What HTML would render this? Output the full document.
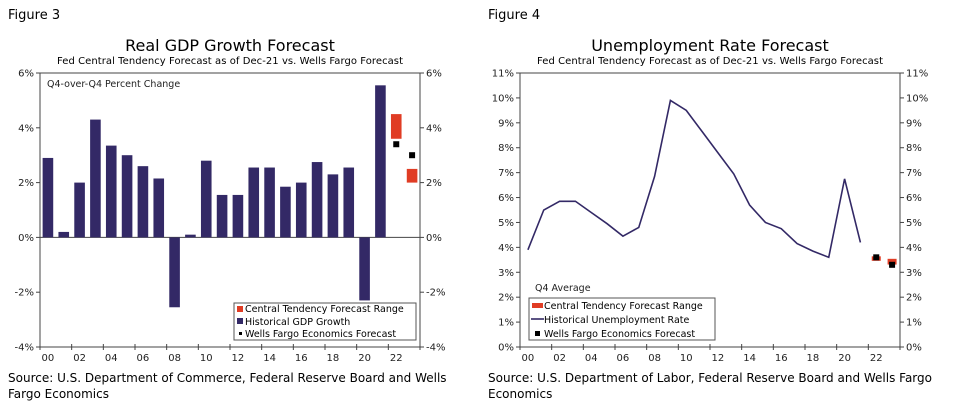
<!DOCTYPE html>
<html><head><meta charset="utf-8"><style>
body{margin:0;background:#fff;width:957px;height:409px;overflow:hidden;font-family:"Liberation Sans",sans-serif}
svg text{font-family:"DejaVu Sans","Liberation Sans",sans-serif}
</style></head><body>
<svg id="s" width="957" height="409">
<text x="8" y="19" font-size="13" font-family="Liberation Sans">Figure 3</text>
<text x="488" y="19" font-size="13" font-family="Liberation Sans">Figure 4</text>
<text x="230" y="51" font-size="16" text-anchor="middle">Real GDP Growth Forecast</text>
<text x="230" y="64" font-size="10" text-anchor="middle" textLength="346">Fed Central Tendency Forecast as of Dec-21 vs. Wells Fargo Forecast</text>
<text x="710" y="51" font-size="16" text-anchor="middle">Unemployment Rate Forecast</text>
<text x="710" y="64" font-size="10" text-anchor="middle" textLength="346">Fed Central Tendency Forecast as of Dec-21 vs. Wells Fargo Forecast</text>
<text x="8" y="382" font-size="12" font-family="Liberation Sans">Source: U.S. Department of Commerce, Federal Reserve Board and Wells</text>
<text x="8" y="398" font-size="12" font-family="Liberation Sans">Fargo Economics</text>
<text x="488" y="382" font-size="12" font-family="Liberation Sans">Source: U.S. Department of Labor, Federal Reserve Board and Wells Fargo</text>
<text x="488" y="398" font-size="12" font-family="Liberation Sans">Economics</text>
<g id="g1"></g><g id="g2"></g>
</svg>
<script>
const years=["00","01","02","03","04","05","06","07","08","09","10","11","12","13","14","15","16","17","18","19","20","21","22","23"];
const gdpHist=[2.9,0.2,2.0,4.3,3.35,3.0,2.6,2.15,-2.55,0.1,2.8,1.55,1.55,2.55,2.55,1.85,2.0,2.75,2.3,2.55,-2.3,5.55];
const gdpRangeLo=[3.6,2.0];
const gdpRangeHi=[4.5,2.5];
const gdpWF=[3.4,3.0];
const gdpTicks=[6,4,2,0,-2,-4];
const unHist=[3.9,5.5,5.85,5.85,5.4,4.95,4.45,4.8,6.85,9.9,9.5,8.65,7.8,6.95,5.7,5.0,4.75,4.15,3.85,3.6,6.75,4.2];
const unRangeLo=[3.5,3.35];
const unRangeHi=[3.6,3.5];
const unWF=[3.6,3.3];
const unTicks=[11,10,9,8,7,6,5,4,3,2,1,0];
const NS="http://www.w3.org/2000/svg";
function mk(p,t,a,txt){const e=document.createElementNS(NS,t);for(const k in a)e.setAttribute(k,a[k]);if(txt!=null)e.textContent=txt;p.appendChild(e);return e;}
function axes(g,x0,x1,yTop,yBot,vmax,vmin,ticks){
  const y=v=>yTop+(vmax-v)/(vmax-vmin)*(yBot-yTop);
  const sw=(x1-x0)/years.length;
  const xc=i=>x0+sw*(i+0.5);
  let e=mk(g,'rect',{x:x0,y:yTop,width:x1-x0,height:yBot-yTop,fill:'none',stroke:'#444','stroke-width':1});
  
  ticks.forEach(t=>{
    mk(g,'line',{x1:x0-4,x2:x0,y1:y(t),y2:y(t),stroke:'#444'});
    mk(g,'line',{x1:x1,x2:x1+4,y1:y(t),y2:y(t),stroke:'#444'});
    let a=mk(g,'text',{x:x0-6,y:y(t)+3.5,'font-size':10,'text-anchor':'end',fill:'#222'},t+'%');
    
    let b=mk(g,'text',{x:x1+6,y:y(t)+3.5,'font-size':10,fill:'#222'},t+'%');
    
  });
  for(let i=0;i<=years.length;i+=2){mk(g,'line',{x1:x0+sw*i,x2:x0+sw*i,y1:yBot-3,y2:yBot+3,stroke:'#444'});}
  years.forEach((yr,i)=>{if(i%2==0){let t=mk(g,'text',{x:xc(i),y:yBot+14,'font-size':10,'text-anchor':'middle',fill:'#222'},yr);
    }});
  return {y,xc,sw};
}
const g1=document.getElementById('g1');
const A=axes(g1,40,420,73,347,6,-4,gdpTicks);
mk(g1,'line',{x1:40,x2:420,y1:A.y(0),y2:A.y(0),stroke:'#444'});
gdpHist.forEach((v,i)=>{const r=mk(g1,'rect',{x:A.xc(i)-5.3,y:Math.min(A.y(v),A.y(0)),width:10.6,height:Math.abs(A.y(v)-A.y(0)),fill:'#332966'});
  });
gdpRangeLo.forEach((lo,j)=>{const i=22+j;const r=mk(g1,'rect',{x:A.xc(i)-5.3,y:A.y(gdpRangeHi[j]),width:10.6,height:A.y(lo)-A.y(gdpRangeHi[j]),fill:'#e03c24'});
  });
gdpWF.forEach((v,j)=>{const i=22+j;const r=mk(g1,'rect',{x:A.xc(i)-3,y:A.y(v)-3,width:6,height:6,fill:'#000'});
  });
let t=mk(g1,'text',{x:47,y:87,'font-size':9.5,fill:'#222'},'Q4-over-Q4 Percent Change');

let lg=mk(g1,'g',{});
mk(lg,'rect',{x:234,y:303,width:182,height:37,fill:'#fff',stroke:'#555'});
mk(lg,'rect',{x:237,y:306,width:6,height:6,fill:'#e03c24'});
mk(lg,'text',{x:245,y:312,'font-size':9.5},'Central Tendency Forecast Range');
mk(lg,'rect',{x:237,y:318,width:6,height:6,fill:'#332966'});
mk(lg,'text',{x:245,y:325,'font-size':9.5},'Historical GDP Growth');
mk(lg,'rect',{x:239,y:332,width:3,height:3,fill:'#000'});
mk(lg,'text',{x:245,y:337,'font-size':9.5},'Wells Fargo Economics Forecast');
const g2=document.getElementById('g2');
const B=axes(g2,520,900,73,347,11,0,unTicks);
const pts=unHist.map((v,i)=>B.xc(i)+','+B.y(v)).join(' ');
let pl=mk(g2,'polyline',{points:pts,fill:'none',stroke:'#332966','stroke-width':1.6});

unRangeLo.forEach((lo,j)=>{const i=22+j;const r=mk(g2,'rect',{x:B.xc(i)-4.5,y:B.y(unRangeHi[j])-1,width:9,height:B.y(lo)-B.y(unRangeHi[j])+2,fill:'#e03c24'});
  });
unWF.forEach((v,j)=>{const i=22+j;const r=mk(g2,'rect',{x:B.xc(i)-3,y:B.y(v)-3,width:6,height:6,fill:'#000'});
  });
t=mk(g2,'text',{x:535,y:291,'font-size':9.5,fill:'#222'},'Q4 Average');

lg=mk(g2,'g',{});
mk(lg,'rect',{x:529,y:298,width:186,height:42,fill:'#fff',stroke:'#555'});
mk(lg,'rect',{x:532,y:303,width:11,height:5,fill:'#e03c24'});
mk(lg,'text',{x:544,y:309,'font-size':9.5},'Central Tendency Forecast Range');
mk(lg,'line',{x1:531,x2:544,y1:319,y2:319,stroke:'#332966','stroke-width':1.6});
mk(lg,'text',{x:544,y:323,'font-size':9.5},'Historical Unemployment Rate');
mk(lg,'rect',{x:535,y:331,width:5,height:5,fill:'#000'});
mk(lg,'text',{x:544,y:337,'font-size':9.5},'Wells Fargo Economics Forecast');
</script>
</body></html>
